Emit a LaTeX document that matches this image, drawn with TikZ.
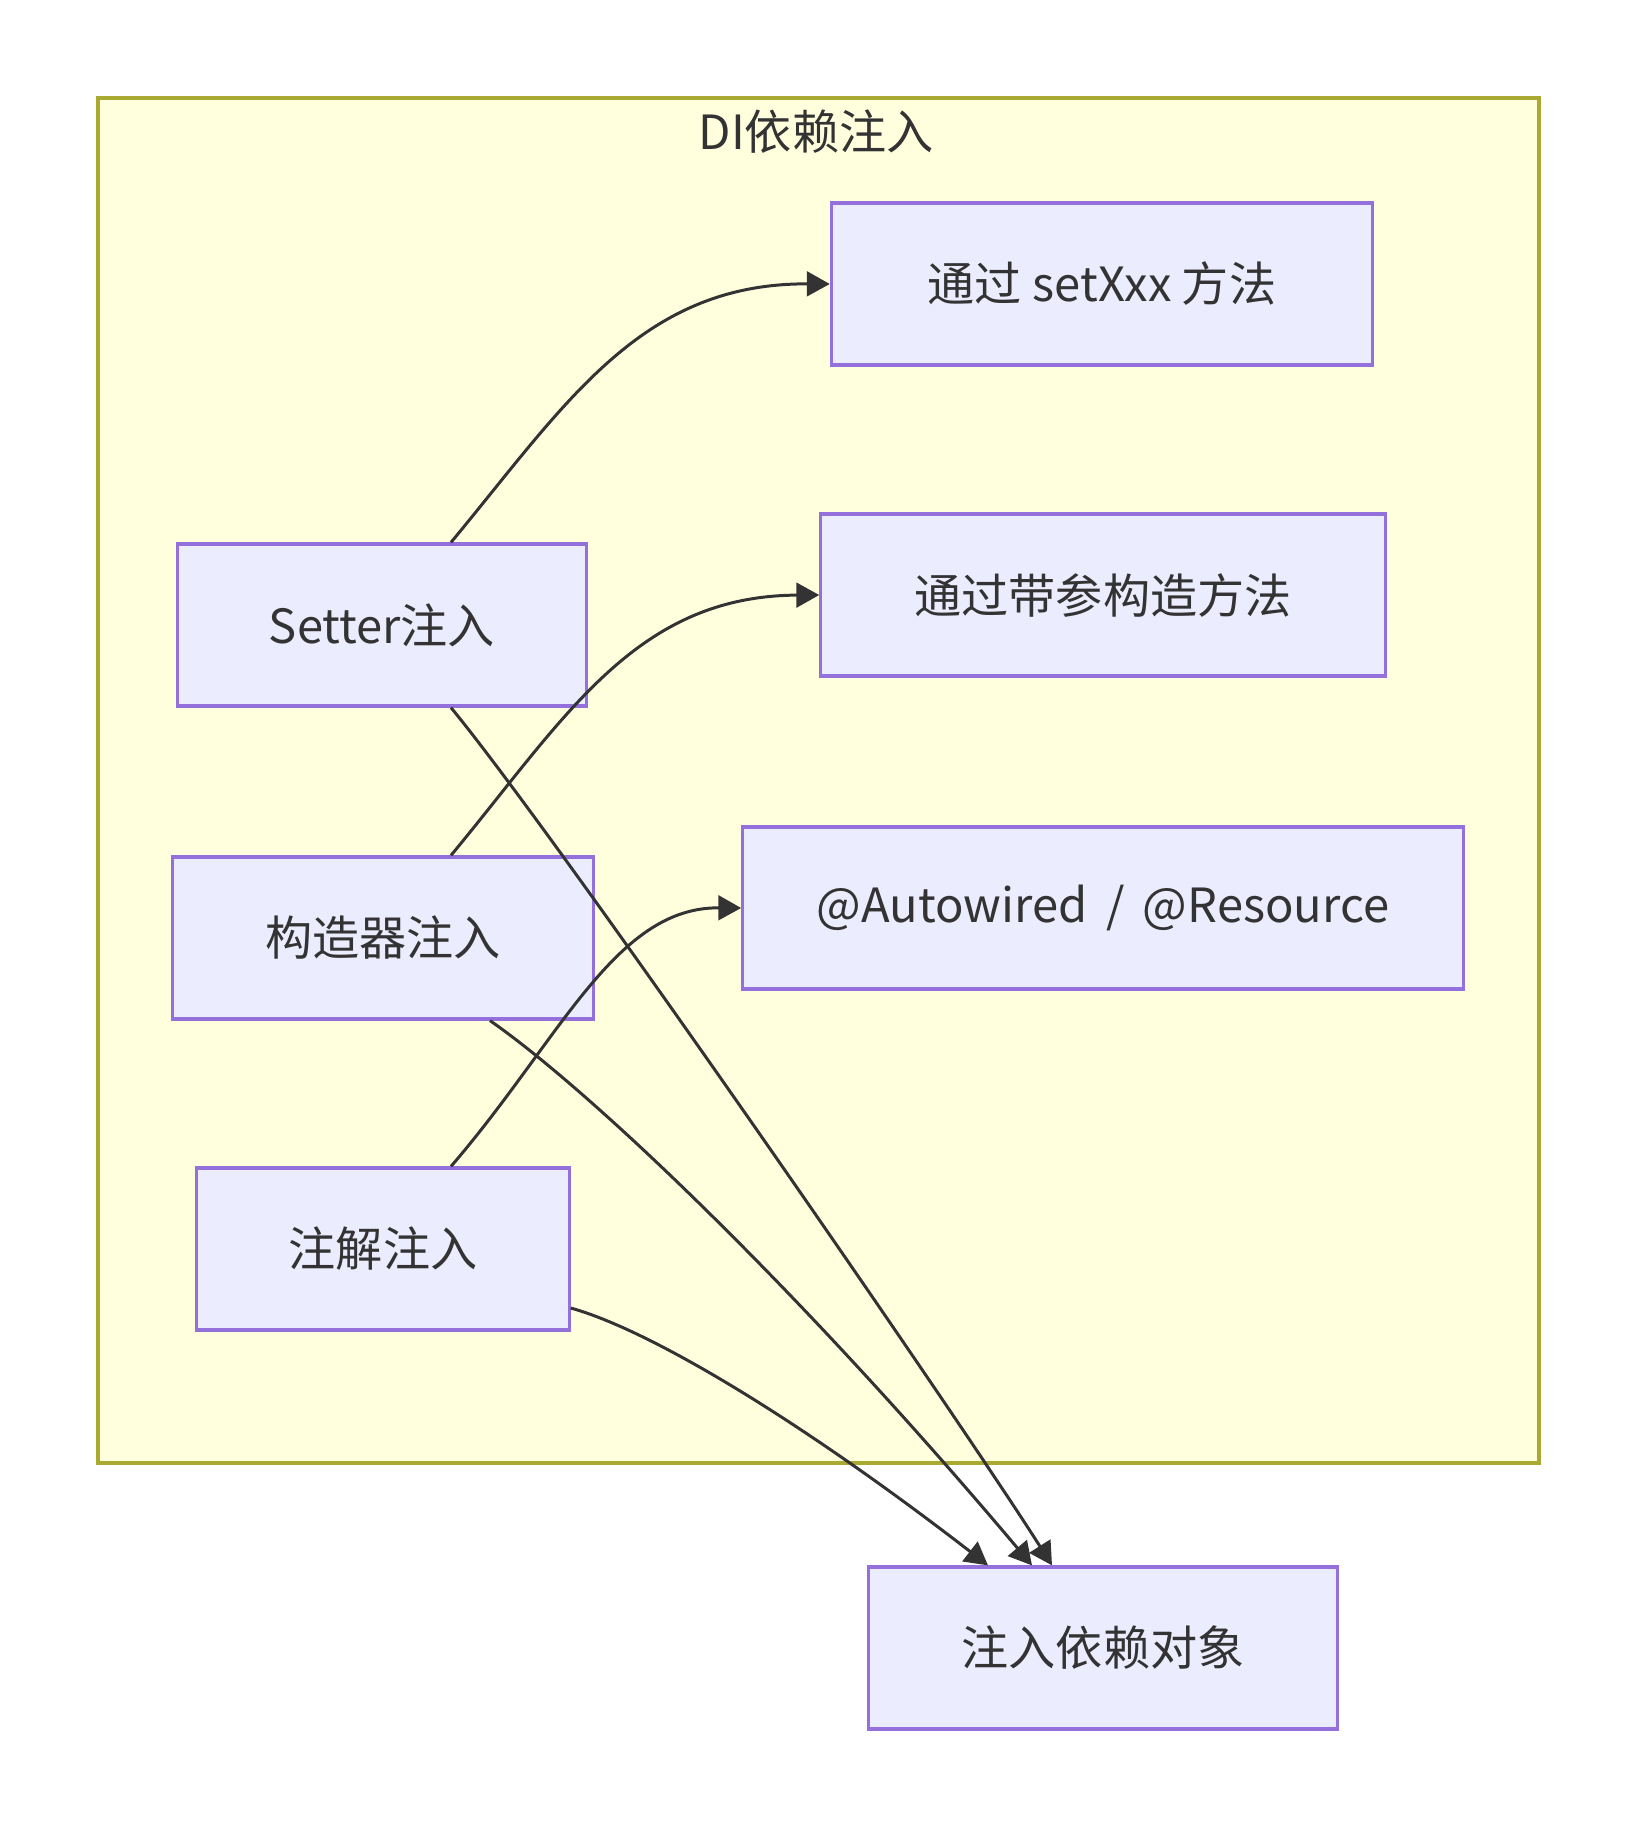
\documentclass[tikz,border=0pt]{standalone}
\usepackage{fontspec}
\setmainfont{Noto Sans CJK SC}
\usepackage{tikz}
\usetikzlibrary{arrows.meta,calc}
\definecolor{boxfill}{HTML}{ECECFF}
\definecolor{boxline}{HTML}{9370DB}
\definecolor{grpfill}{HTML}{FFFFDE}
\definecolor{grpline}{HTML}{AAAA33}
\definecolor{ink}{HTML}{333333}

\begin{document}
\begin{tikzpicture}[x=0.01cm,y=-0.01cm,
		font=\fontsize{13.4pt}{16pt}\selectfont,text=ink,
		box/.style={draw=boxline,fill=boxfill,line width=0.9pt,minimum height=1.62cm,inner sep=0pt},
		link/.style={draw=ink,line width=0.85pt,-{Triangle[length=6.5pt,width=7pt]}}]
		\useasboundingbox (0,0) rectangle (1637,1828);
		\draw[grpline,fill=grpfill,line width=0.9pt] (98,98) rectangle (1539,1463);
		\node (title) at (816,132) {DI依赖注入};
		\node[box,minimum width=4.08cm] (setter) at (382,625) {Setter注入};
		\node[box,minimum width=4.20cm] (ctor) at (383,938) {构造器注入};
		\node[box,minimum width=3.72cm] (anno) at (383,1249) {注解注入};
		\node[box,minimum width=5.41cm] (setx) at (1102,284) {通过 setXxx 方法};
		\node[box,minimum width=5.64cm] (param) at (1103,595) {通过带参构造方法};
		\node[box,minimum width=7.20cm] (auto) at (1103,908) {@Autowired \,/\, @Resource};
		\node[box,minimum width=4.68cm] (target) at (1103,1648) {注入依赖对象};
		% ways of injecting
		\draw[link] ($(setter.north)+(69,0)$) .. controls (565,405) and (640,283) .. (setx.west);
		\draw[link] ($(ctor.north)+(68,0)$) .. controls (565,718) and (635,596) .. (param.west);
		\draw[link] ($(anno.north)+(68,0)$) .. controls (560,1040) and (615,907) .. (auto.west);
		% all end in the same object
		\draw[link] ($(setter.south)+(69,0)$) .. controls (560,840) and (960,1420) .. ($(target.north)+(-51,0)$);
		\draw[link] ($(ctor.south)+(107,0)$) .. controls (590,1090) and (800,1290) .. ($(target.north)+(-71,0)$);
		\draw[link] ($(anno.east)+(0,59)$) .. controls (650,1330) and (800,1420) .. ($(target.north)+(-115,0)$);
\end{tikzpicture}
\end{document}
